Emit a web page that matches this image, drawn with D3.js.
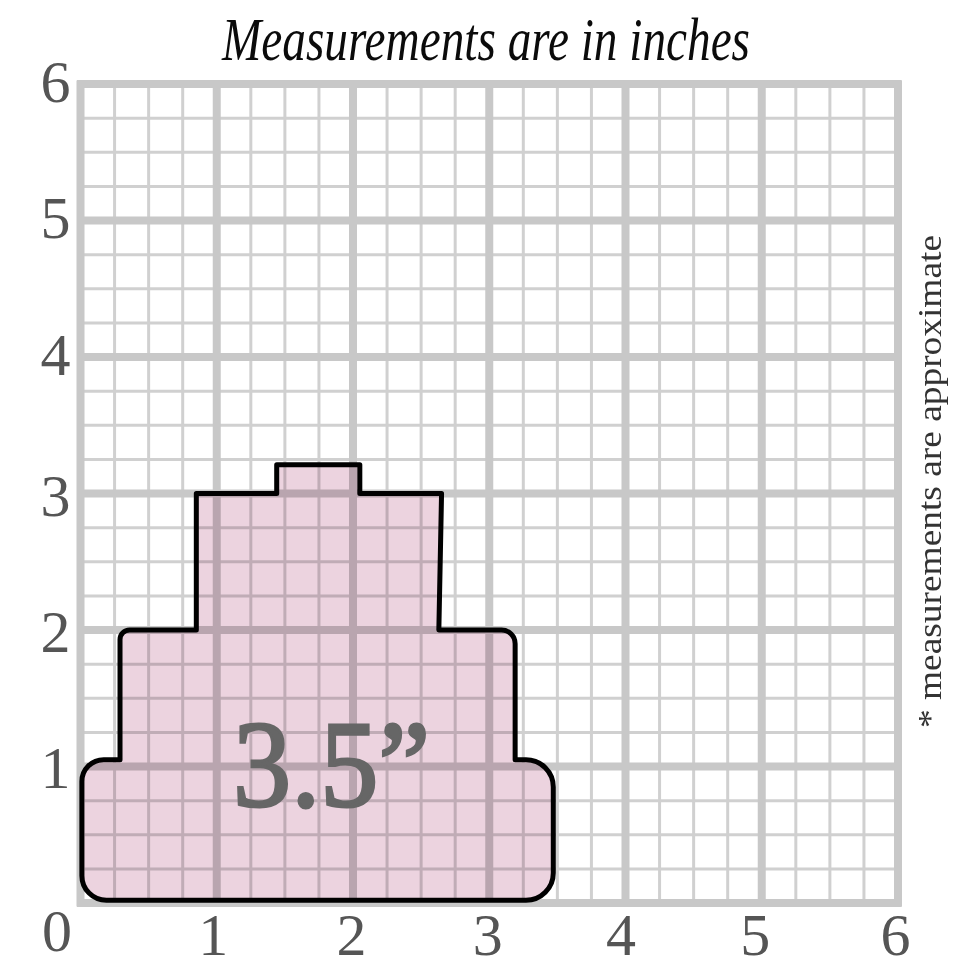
<!DOCTYPE html>
<html>
<head>
  <style>
  html, body { margin: 0; background: #fff; }
  svg { display: block; }
  text { font-family: "Liberation Serif", serif; }
  .tick text { font-size: 60px; fill: #555; }
  .domain { display: none; }
  </style>
</head>
<body>
  <div id="chart"></div>
  <script src="https://d3js.org/d3.v7.min.js"></script>
  <script>
  // grid, in inches
  var majorTicks = [0, 1, 2, 3, 4, 5, 6];
  var yLabelTicks = [1, 2, 3, 4, 5, 6];
  var minorTicks = [0.25, 0.5, 0.75, 1.25, 1.5, 1.75, 2.25, 2.5, 2.75, 3.25, 3.5, 3.75, 4.25, 4.5, 4.75, 5.25, 5.5, 5.75];

  // cake outline, in inches, clockwise from bottom left. cakeR = corner radius
  var cakeX = [0.01, 0.01, 0.29, 0.29, 0.85, 0.85, 1.44, 1.44, 2.05, 2.05, 2.65, 2.63, 3.19, 3.19, 3.47, 3.47];
  var cakeY = [0.02, 1.05, 1.05, 2.0, 2.0, 3.0, 3.0, 3.21, 3.21, 3.0, 3.0, 2.0, 2.0, 1.05, 1.05, 0.02];
  var cakeR = [0.18, 0.16, 0, 0.07, 0, 0, 0, 0, 0, 0, 0, 0, 0.1, 0, 0.2, 0.2];

  var titleText = "Measurements are in inches";
  var sizeText = "3.5”";
  var noteText = "* measurements are approximate";

  var width = 980, height = 980;

  var x = d3.scaleLinear().domain([0, 6]).range([80.5, 898]);
  var y = d3.scaleLinear().domain([0, 6]).range([903, 84]);

  var svg = d3.select("#chart").append("svg")
      .attr("width", width)
      .attr("height", height);

  var blur = svg.append("defs").append("filter")
      .attr("id", "soft")
      .attr("x", "-2%").attr("y", "-2%")
      .attr("width", "104%").attr("height", "104%");
  blur.append("feGaussianBlur").attr("stdDeviation", 0.7);

  var grid = svg.append("g").attr("filter", "url(#soft)");

  function drawLines(values, cls, color, size) {
    grid.selectAll("line.v" + cls)
        .data(values)
      .enter().append("line")
        .attr("class", "v" + cls)
        .attr("x1", function(d){ return x(d); })
        .attr("x2", function(d){ return x(d); })
        .attr("y1", y(0) + 3.5)
        .attr("y2", y(6) - 3.5)
        .attr("stroke", color)
        .attr("stroke-width", size);
    grid.selectAll("line.h" + cls)
        .data(values)
      .enter().append("line")
        .attr("class", "h" + cls)
        .attr("y1", function(d){ return y(d); })
        .attr("y2", function(d){ return y(d); })
        .attr("x1", x(0) - 3.5)
        .attr("x2", x(6) + 3.5)
        .attr("stroke", color)
        .attr("stroke-width", size);
  }
  drawLines(minorTicks, "minor", "#d0d0d0", 3);
  drawLines(majorTicks, "major", "#c8c8c8", 8);

  // outline with rounded corners
  var path = d3.path();
  var pts = cakeX.map(function(d, i){ return [x(d), y(cakeY[i]), cakeR[i] * 136.5]; });
  path.moveTo((pts[0][0] + pts[pts.length - 1][0]) / 2, pts[0][1]);
  pts.forEach(function(p, i){
    var next = pts[(i + 1) % pts.length];
    path.arcTo(p[0], p[1], next[0], next[1], p[2]);
  });
  path.closePath();

  svg.append("path")
      .attr("d", path.toString())
      .attr("fill", "#ecd3df")
      .style("mix-blend-mode", "multiply");

  svg.append("path")
      .attr("d", path.toString())
      .attr("fill", "none")
      .attr("stroke", "#000")
      .attr("stroke-width", 5)
      .attr("stroke-linejoin", "round");

  // labels sit a little off their lines in the reference
  var xNudge = {0: -24, 1: -4, 2: -2, 3: -2, 4: -5, 5: -7, 6: -3};
  var yNudge = {1: -1, 2: 0, 3: 0, 4: -4, 5: -5, 6: -4};

  var xAxis = svg.append("g")
      .attr("transform", "translate(0," + (y(0) + 5) + ")")
      .call(d3.axisBottom(x).tickValues(majorTicks).tickSize(0).tickPadding(0).tickFormat(d3.format("d")));
  xAxis.selectAll(".tick text")
      .attr("dy", "0.78em")
      .attr("dx", function(d){ return xNudge[d]; });
  xAxis.selectAll(".tick")
      .filter(function(d){ return d === 0; })
      .select("text")
      .attr("y", -4);

  var yAxis = svg.append("g")
      .attr("transform", "translate(" + (x(0) - 10) + ",0)")
      .call(d3.axisLeft(y).tickValues(yLabelTicks).tickSize(0).tickPadding(0).tickFormat(d3.format("d")));
  yAxis.selectAll(".tick text")
      .attr("dy", "0.36em")
      .attr("y", function(d){ return yNudge[d]; });

  svg.append("text")
      .attr("x", 222)
      .attr("y", 60)
      .attr("textLength", 528)
      .attr("lengthAdjust", "spacingAndGlyphs")
      .style("font-size", "62px")
      .style("font-style", "italic")
      .attr("fill", "#0b0b0b")
      .text(titleText);

  svg.append("text")
      .attr("x", 233)
      .attr("y", 806)
      .attr("textLength", 197)
      .attr("lengthAdjust", "spacingAndGlyphs")
      .style("font-size", "123px")
      .attr("fill", "#666")
      .attr("stroke", "#666")
      .attr("stroke-width", 3)
      .text(sizeText);

  svg.append("text")
      .attr("transform", "translate(941,728) rotate(-90)")
      .attr("textLength", 493)
      .attr("lengthAdjust", "spacingAndGlyphs")
      .style("font-size", "33px")
      .attr("fill", "#333")
      .text(noteText);
  </script>
</body>
</html>
